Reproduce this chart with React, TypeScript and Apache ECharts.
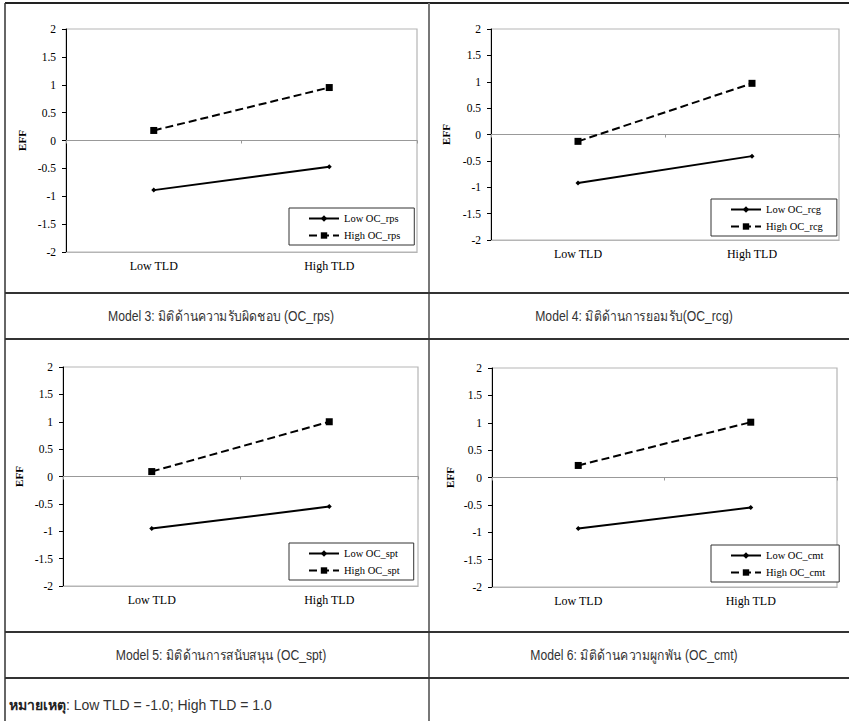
import React, { useEffect, useRef } from "react";
import * as echarts from "echarts";

const categories = ["Low TLD", "High TLD"];
const modelKeys = ["OC_rps", "OC_rcg", "OC_spt", "OC_cmt"];
const captions = [
  "Model 3: มิติด้านความรับผิดชอบ (OC_rps)",
  "Model 4: มิติด้านการยอมรับ(OC_rcg)",
  "Model 5: มิติด้านการสนับสนุน (OC_spt)",
  "Model 6: มิติด้านความผูกพัน (OC_cmt)",
];
const noteLabel = "หมายเหตุ";
const noteText = ": Low TLD = -1.0; High TLD = 1.0";
const yAxisName = "EFF";

const lowOC_rps = [-0.89, -0.47];
const highOC_rps = [0.18, 0.95];
const lowOC_rcg = [-0.92, -0.41];
const highOC_rcg = [-0.13, 0.97];
const lowOC_spt = [-0.95, -0.55];
const highOC_spt = [0.09, 1.0];
const lowOC_cmt = [-0.93, -0.55];
const highOC_cmt = [0.22, 1.01];

const lowSeries = [lowOC_rps, lowOC_rcg, lowOC_spt, lowOC_cmt];
const highSeries = [highOC_rps, highOC_rcg, highOC_spt, highOC_cmt];

const layouts = [
  { grid: { left: 66, top: 29, width: 351, height: 223 }, legend: { left: 289, top: 208 }, nameGap: 39 },
  { grid: { left: 491, top: 29, width: 348, height: 211 }, legend: { left: 711, top: 199 }, nameGap: 40 },
  { grid: { left: 63, top: 367, width: 355, height: 219 }, legend: { left: 289, top: 543 }, nameGap: 39 },
  { grid: { left: 492, top: 368, width: 345, height: 219 }, legend: { left: 711, top: 545 }, nameGap: 37 },
];

const captionPos = [
  { x: 221, y: 316 },
  { x: 634, y: 316 },
  { x: 221, y: 655 },
  { x: 634, y: 655 },
];

const SERIF = "'Liberation Serif', 'Times New Roman', serif";
const SANS = "'Liberation Sans', Arial, sans-serif";

export default function App() {
  const ref = useRef<HTMLDivElement>(null);
  useEffect(() => {
    if (!ref.current) return;
    const chart = echarts.init(ref.current, null, { renderer: "svg" });
    const grids: any[] = [];
    const xAxes: any[] = [];
    const yAxes: any[] = [];
    const series: any[] = [];
    const legends: any[] = [];
    modelKeys.forEach((key, i) => {
      const L = layouts[i];
      grids.push({ ...L.grid, show: true, borderColor: "#b5b5b5", borderWidth: 1.2, backgroundColor: "transparent" });
      xAxes.push({
        type: "category",
        gridIndex: i,
        data: categories,
        boundaryGap: true,
        position: "bottom",
        axisLine: { onZero: false, lineStyle: { color: "#b5b5b5", width: 1.2 } },
        axisTick: { show: false },
        axisLabel: { color: "#000", fontFamily: SERIF, fontSize: 12, margin: 8 },
        splitLine: { show: false },
      });
      xAxes.push({
        type: "category",
        gridIndex: i,
        data: categories,
        boundaryGap: true,
        position: "bottom",
        axisLine: { onZero: true, lineStyle: { color: "#999", width: 1 } },
        axisTick: { show: true, length: 3, lineStyle: { color: "#999" } },
        axisLabel: { show: false },
        splitLine: { show: false },
      });
      yAxes.push({
        type: "value",
        gridIndex: i,
        min: -2,
        max: 2,
        interval: 0.5,
        axisLine: { show: true, onZero: false, lineStyle: { color: "#000", width: 1 } },
        axisTick: { show: true, length: 4, lineStyle: { color: "#000" } },
        axisLabel: { color: "#000", fontFamily: SERIF, fontSize: 11.5, margin: 10 },
        splitLine: { show: false },
        name: yAxisName,
        nameLocation: "middle",
        nameGap: L.nameGap,
        nameRotate: 90,
        nameTextStyle: { color: "#000", fontFamily: SERIF, fontWeight: "bold", fontSize: 11 },
      });
      const lowName = `Low ${key}`;
      const highName = `High ${key}`;
      series.push({
        type: "line",
        name: lowName,
        xAxisIndex: 2 * i,
        yAxisIndex: i,
        data: lowSeries[i],
        symbol: "diamond",
        symbolSize: 5,
        lineStyle: { color: "#000", width: 2, type: "solid" },
        itemStyle: { color: "#000" },
        silent: true,
      });
      series.push({
        type: "line",
        name: highName,
        xAxisIndex: 2 * i,
        yAxisIndex: i,
        data: highSeries[i],
        symbol: "rect",
        symbolSize: 7,
        lineStyle: { color: "#000", width: 2, type: [8, 4] },
        itemStyle: { color: "#000" },
        silent: true,
      });
      legends.push({
        left: L.legend.left,
        top: L.legend.top,
        orient: "vertical",
        data: [lowName, highName],
        borderColor: "#333",
        borderWidth: 1,
        backgroundColor: "#fff",
        padding: [5, 14, 4, 19],
        itemGap: 6,
        itemWidth: 30,
        itemHeight: 8,
        selectedMode: false,
        textStyle: { color: "#000", fontFamily: SERIF, fontSize: 10.5 },
      });
    });

    const lineEl = (x1: number, y1: number, x2: number, y2: number, stroke: string, w: number) => ({
      type: "line",
      silent: true,
      shape: { x1, y1, x2, y2 },
      style: { stroke, lineWidth: w },
      z: 0,
    });

    const graphics: any[] = [
      lineEl(5, 3, 849, 3, "#222", 2),
      lineEl(5, 3, 5, 721, "#333", 1.5),
      lineEl(429, 3, 429, 721, "#777", 2),
      lineEl(5, 293, 849, 293, "#333", 2),
      lineEl(5, 339, 849, 339, "#333", 2),
      lineEl(5, 632, 849, 632, "#333", 2),
      lineEl(5, 678, 849, 678, "#333", 2),
    ];
    captions.forEach((c, i) => {
      graphics.push({
        type: "text",
        silent: true,
        x: captionPos[i].x,
        y: captionPos[i].y,
        scaleX: 0.87,
        style: {
          text: c,
          fill: "#333",
          fontFamily: SANS,
          fontSize: 14,
          align: "center",
          verticalAlign: "middle",
        },
      });
    });
    graphics.push({
      type: "text",
      silent: true,
      x: 9,
      y: 705,
      style: {
        text: `{b|${noteLabel}}${noteText}`,
        fill: "#333",
        fontFamily: SANS,
        fontSize: 14,
        align: "left",
        verticalAlign: "middle",
        rich: { b: { fontWeight: "bold", fill: "#222", fontFamily: SANS, fontSize: 14 } },
      },
    });

    chart.setOption({
      animation: false,
      backgroundColor: "#fff",
      grid: grids,
      xAxis: xAxes,
      yAxis: yAxes,
      series,
      legend: legends,
      graphic: graphics,
    });
    return () => chart.dispose();
  }, []);
  return <div ref={ref} style={{ position: "absolute", left: 0, top: 0, width: 849, height: 721 }} />;
}
